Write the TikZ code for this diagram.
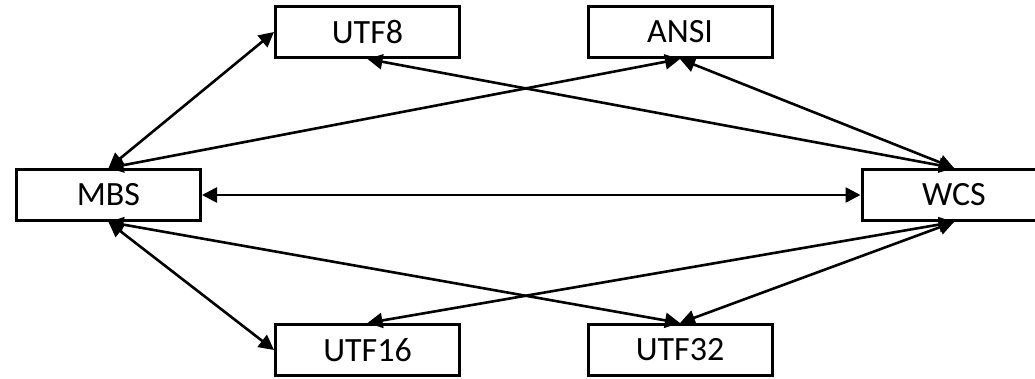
\documentclass[tikz,border=0pt]{standalone}
\usepackage{fontspec}
\setmainfont{Carlito}
\usetikzlibrary{arrows.meta}
\begin{document}
\begin{tikzpicture}[x=1pt,y=-1pt,
  box/.style={draw=black, line width=3pt, fill=white,
    minimum width=184pt, minimum height=51pt, inner sep=0pt,
    font=\fontsize{34}{40}\selectfont},
  link/.style={line width=2.6pt, {Triangle[length=15pt,width=15pt]}-{Triangle[length=15pt,width=15pt]}}]
  \useasboundingbox (0,0) rectangle (1035,379);
  \clip (0,0) rectangle (1035,379);
  % encoding boxes
  \node[box] (mbs)   at (108.5,195) {MBS};
  \node[box] (wcs)   at (954,195)   {WCS};
  \node[box] (utf8)  at (367.5,32)  {UTF8};
  \node[box] (ansi)  at (680,32)    {ANSI};
  \node[box] (utf16) at (367.5,350) {UTF16};
  \node[box] (utf32) at (680,350)   {UTF32};
  % conversions
  \draw[link] (mbs.north) -- (utf8.west);
  \draw[link] (mbs.north) -- (ansi.south);
  \draw[link] (wcs.north) -- (utf8.south);
  \draw[link] (wcs.north) -- (ansi.south);
  \draw[link] (mbs.east)  -- (wcs.west);
  \draw[link] (mbs.south) -- (utf16.west);
  \draw[link] (mbs.south) -- (utf32.north);
  \draw[link] (wcs.south) -- (utf16.north);
  \draw[link] (wcs.south) -- (utf32.north);
\end{tikzpicture}
\end{document}
